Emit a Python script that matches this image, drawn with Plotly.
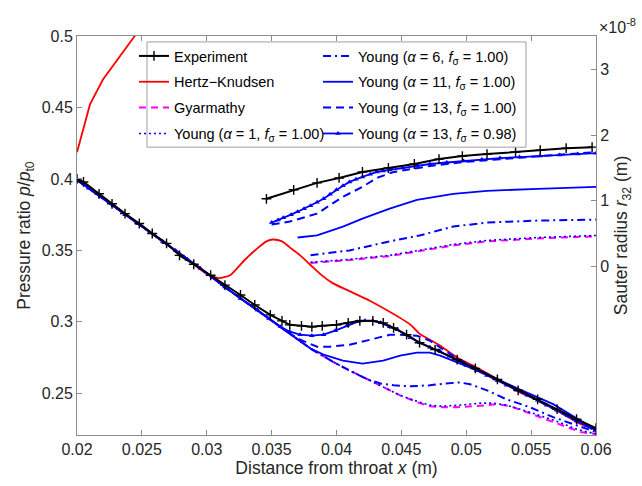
import plotly.graph_objects as go
import numpy as np

# ---------------- pressure ratio p/p_t0 (left axis) ----------------
x_exp_p = [0.0200, 0.0205, 0.0217, 0.0227, 0.0237, 0.0248, 0.0258, 0.0269, 0.0279, 0.0290,
           0.0303, 0.0314, 0.0326, 0.0337, 0.0349, 0.0358, 0.0364, 0.0373, 0.0381, 0.0389,
           0.0400, 0.0409, 0.0418, 0.0428, 0.0436, 0.0444, 0.0454, 0.0464, 0.0476, 0.0493,
           0.0507, 0.0524, 0.0540, 0.0555, 0.0570, 0.0585, 0.0600]
p_exp = [0.4000, 0.3979, 0.3896, 0.3826, 0.3757, 0.3688, 0.3618, 0.3549, 0.3465, 0.3403,
         0.3326, 0.3257, 0.3188, 0.3118, 0.3049, 0.3007, 0.2979, 0.2972, 0.2965, 0.2972,
         0.2979, 0.2993, 0.3007, 0.3007, 0.2993, 0.2958, 0.2910, 0.2854, 0.2806, 0.2736,
         0.2674, 0.2597, 0.2521, 0.2458, 0.2389, 0.2319, 0.2257]

x_hk_p = [0.0200, 0.0256, 0.0287, 0.0299, 0.0309, 0.0318, 0.0329, 0.0339, 0.0346, 0.0351,
          0.0358, 0.0364, 0.0372, 0.0381, 0.0388, 0.0397, 0.0410, 0.0426, 0.0441, 0.0457,
          0.0464, 0.0472, 0.0480, 0.0493, 0.0508, 0.0526, 0.0541, 0.0555, 0.0572, 0.0588, 0.0600]
p_hk = [0.3997, 0.3632, 0.3424, 0.3340, 0.3306, 0.3326, 0.3431, 0.3514, 0.3563, 0.3576,
        0.3563, 0.3521, 0.3465, 0.3389, 0.3330, 0.3271, 0.3215, 0.3146, 0.3070, 0.2980,
        0.2917, 0.2875, 0.2833, 0.2750, 0.2681, 0.2590, 0.2507, 0.2451, 0.2368, 0.2285, 0.2243]

# shared expansion line of the Young / Gyarmathy models before condensation
x_base = [0.0200, 0.0218, 0.0237, 0.0256, 0.0276, 0.0295, 0.0314, 0.0339, 0.0364]
p_base = [0.3993, 0.3875, 0.3750, 0.3625, 0.3500, 0.3375, 0.3243, 0.3083, 0.2917]

x_gy_p = [0.0380, 0.0397, 0.0410, 0.0424, 0.0436, 0.0449, 0.0462, 0.0472, 0.0480, 0.0493,
          0.0507, 0.0524, 0.0534, 0.0549, 0.0567, 0.0588, 0.0600]
p_gy = [0.2813, 0.2722, 0.2660, 0.2597, 0.2542, 0.2486, 0.2438, 0.2410, 0.2403, 0.2403,
        0.2410, 0.2424, 0.2410, 0.2361, 0.2299, 0.2229, 0.2215]

x_y1_p = [0.0380, 0.0397, 0.0410, 0.0424, 0.0436, 0.0449, 0.0462, 0.0472, 0.0480, 0.0495,
          0.0511, 0.0521, 0.0531, 0.0549, 0.0567, 0.0585, 0.0600]
p_y1 = [0.2813, 0.2722, 0.2660, 0.2597, 0.2542, 0.2486, 0.2444, 0.2417, 0.2410, 0.2417,
        0.2431, 0.2431, 0.2417, 0.2368, 0.2313, 0.2250, 0.2215]

x_y6_p = [0.0380, 0.0397, 0.0410, 0.0424, 0.0434, 0.0444, 0.0457, 0.0472, 0.0484, 0.0495,
          0.0503, 0.0516, 0.0531, 0.0549, 0.0567, 0.0588, 0.0600]
p_y6 = [0.2813, 0.2722, 0.2660, 0.2597, 0.2569, 0.2556, 0.2549, 0.2556, 0.2569, 0.2576,
        0.2563, 0.2521, 0.2458, 0.2403, 0.2333, 0.2264, 0.2229]

x_y11_p = [0.0380, 0.0390, 0.0405, 0.0420, 0.0436, 0.0449, 0.0462, 0.0472, 0.0480, 0.0493,
           0.0516, 0.0541, 0.0567, 0.0600]
p_y11 = [0.2813, 0.2771, 0.2729, 0.2708, 0.2729, 0.2764, 0.2785, 0.2785, 0.2764, 0.2715,
         0.2632, 0.2528, 0.2424, 0.2243]

x_y13_p = [0.0372, 0.0385, 0.0395, 0.0410, 0.0426, 0.0441, 0.0451, 0.0462, 0.0472, 0.0493,
           0.0524, 0.0555, 0.0585, 0.0600]
p_y13 = [0.2875, 0.2826, 0.2826, 0.2840, 0.2875, 0.2910, 0.2910, 0.2903, 0.2868, 0.2743,
         0.2597, 0.2451, 0.2306, 0.2236]

x_y13b_p = [0.0200, 0.0209, 0.0218, 0.0228, 0.0237, 0.0247, 0.0256, 0.0266, 0.0276, 0.0285,
            0.0295, 0.0305, 0.0314, 0.0326, 0.0339, 0.0348, 0.0357, 0.0364,
            0.0372, 0.0381, 0.0390, 0.0399, 0.0408, 0.0416, 0.0422, 0.0428, 0.0434, 0.0441,
            0.0447, 0.0457, 0.0464, 0.0472, 0.0480, 0.0487, 0.0493, 0.0500, 0.0508, 0.0516,
            0.0524, 0.0531, 0.0539, 0.0547, 0.0555, 0.0562, 0.0570, 0.0578, 0.0585, 0.0593, 0.0600]
p_y13b = [0.3993, 0.3934, 0.3875, 0.3812, 0.3750, 0.3687, 0.3625, 0.3562, 0.3500, 0.3437,
          0.3375, 0.3309, 0.3243, 0.3163, 0.3083, 0.3024, 0.2965, 0.2931,
          0.2910, 0.2903, 0.2910, 0.2938, 0.2972, 0.3000, 0.3007, 0.3007, 0.2993, 0.2965,
          0.2944, 0.2889, 0.2854, 0.2823, 0.2792, 0.2760, 0.2729, 0.2695, 0.2660, 0.2625,
          0.2590, 0.2556, 0.2521, 0.2486, 0.2451, 0.2417, 0.2382, 0.2344, 0.2306, 0.2275, 0.2243]

# ---------------- Sauter radius r_32 (right axis, units of 1e-8 m) ----------------
x_exp_r = [0.0346, 0.0367, 0.0385, 0.0402, 0.0420, 0.0440, 0.0460, 0.0479, 0.0497, 0.0516,
           0.0538, 0.0557, 0.0577, 0.0597]
r_exp = [1.030, 1.167, 1.273, 1.348, 1.439, 1.500, 1.561, 1.636, 1.682, 1.712,
         1.742, 1.773, 1.803, 1.818]

x_hk_r = [0.0200, 0.0210, 0.0220, 0.0233, 0.0245, 0.0255]
r_hk = [1.74, 2.47, 2.85, 3.20, 3.53, 3.80]

x_y1_r = [0.0380, 0.0410, 0.0441, 0.0464, 0.0490, 0.0516, 0.0555, 0.0600]
r_y1 = [0.061, 0.106, 0.167, 0.242, 0.333, 0.394, 0.439, 0.470]
r_gy = [0.050, 0.094, 0.155, 0.230, 0.318, 0.379, 0.424, 0.458]

x_y6_r = [0.0380, 0.0410, 0.0441, 0.0464, 0.0490, 0.0516, 0.0555, 0.0600]
r_y6 = [0.167, 0.242, 0.379, 0.470, 0.606, 0.667, 0.697, 0.712]

x_y11_r = [0.0370, 0.0385, 0.0405, 0.0420, 0.0441, 0.0462, 0.0490, 0.0516, 0.0555, 0.0600]
r_y11 = [0.439, 0.470, 0.606, 0.727, 0.879, 1.015, 1.106, 1.152, 1.182, 1.212]

x_y13_r = [0.0350, 0.0364, 0.0385, 0.0405, 0.0420, 0.0431, 0.0444, 0.0457, 0.0472, 0.0498,
           0.0526, 0.0557, 0.0600]
r_y13 = [0.636, 0.682, 0.803, 1.061, 1.212, 1.348, 1.439, 1.485, 1.530, 1.591,
         1.636, 1.682, 1.742]

x_y13b_r = [0.0350, 0.0355, 0.0359, 0.0365, 0.0370, 0.0375, 0.0380, 0.0385, 0.0390, 0.0395,
            0.0400, 0.0405, 0.0410, 0.0415, 0.0420, 0.0426, 0.0431, 0.0436, 0.0441,
            0.0451, 0.0462, 0.0472, 0.0485, 0.0498, 0.0512, 0.0526, 0.0541, 0.0557, 0.0572,
            0.0586, 0.0600]
r_y13b = [0.667, 0.705, 0.742, 0.788, 0.833, 0.879, 0.924, 0.977, 1.030, 1.100,
          1.167, 1.230, 1.288, 1.330, 1.364, 1.405, 1.439, 1.456, 1.470,
          1.500, 1.530, 1.561, 1.584, 1.606, 1.630, 1.652, 1.667, 1.682, 1.697,
          1.712, 1.727]

R_UNIT = 1e-8

names = {
    "exp": "Experiment",
    "hk": "Hertz\u2212Knudsen",
    "gy": "Gyarmathy",
    "y1": "Young (<i>\u03b1</i> = 1, <i>f</i><sub>\u03c3</sub> = 1.00)",
    "y6": "Young (<i>\u03b1</i> = 6, <i>f</i><sub>\u03c3</sub> = 1.00)",
    "y11": "Young (<i>\u03b1</i> = 11, <i>f</i><sub>\u03c3</sub> = 1.00)",
    "y13": "Young (<i>\u03b1</i> = 13, <i>f</i><sub>\u03c3</sub> = 1.00)",
    "y13b": "Young (<i>\u03b1</i> = 13, <i>f</i><sub>\u03c3</sub> = 0.98)",
}

BLUE = "#0000ff"
RED = "#ff0000"
MAG = "#ff00ff"
FONT = "Liberation Sans, Arial, sans-serif"

fig = go.Figure()


def add(key, xs, ys, yaxis, line, legend, rank, show, marker=None, mode="lines"):
    fig.add_trace(go.Scatter(
        x=xs, y=ys, mode=mode, name=names[key], line=line, marker=marker,
        yaxis=yaxis, legend=legend, legendgroup=key, legendrank=rank, showlegend=show,
        hoverinfo="skip"))


def full(xb, yb, xs, ys):
    return list(xb) + list(xs), list(yb) + list(ys)


# Hertz-Knudsen
add("hk", x_hk_p, p_hk, "y", dict(color=RED, width=1.8, shape="spline", smoothing=0.6), "legend", 2, True)
add("hk", x_hk_r, list(np.array(r_hk) * R_UNIT), "y2", dict(color=RED, width=1.8), "legend", 2, False)

# Gyarmathy
xx, yy = full(x_base, p_base, x_gy_p, p_gy)
add("gy", xx, yy, "y", dict(color=MAG, width=2, dash="7px,5px"), "legend", 3, True)
add("gy", x_y1_r, list(np.array(r_gy) * R_UNIT), "y2", dict(color=MAG, width=2, dash="7px,5px"), "legend", 3, False)

# Young alpha = 1
xx, yy = full(x_base, p_base, x_y1_p, p_y1)
add("y1", xx, yy, "y", dict(color=BLUE, width=1.6, dash="2px,3px"), "legend", 4, True)
add("y1", x_y1_r, list(np.array(r_y1) * R_UNIT), "y2", dict(color=BLUE, width=1.6, dash="2px,3px"), "legend", 4, False)

# Young alpha = 6
xx, yy = full(x_base, p_base, x_y6_p, p_y6)
add("y6", xx, yy, "y", dict(color=BLUE, width=2, dash="8px,4px,2px,4px"), "legend2", 5, True)
add("y6", x_y6_r, list(np.array(r_y6) * R_UNIT), "y2", dict(color=BLUE, width=2, dash="8px,4px,2px,4px"), "legend2", 5, False)

# Young alpha = 11
xx, yy = full(x_base, p_base, x_y11_p, p_y11)
add("y11", xx, yy, "y", dict(color=BLUE, width=1.8), "legend2", 6, True)
add("y11", x_y11_r, list(np.array(r_y11) * R_UNIT), "y2", dict(color=BLUE, width=1.8), "legend2", 6, False)

# Young alpha = 13, f = 1.00
xx, yy = full(x_base, p_base, x_y13_p, p_y13)
add("y13", xx, yy, "y", dict(color=BLUE, width=2, dash="8px,5px"), "legend2", 7, True)
add("y13", x_y13_r, list(np.array(r_y13) * R_UNIT), "y2", dict(color=BLUE, width=2, dash="8px,5px"), "legend2", 7, False)

# Young alpha = 13, f = 0.98
tri = dict(symbol="triangle-up", size=5, color=BLUE)
add("y13b", x_y13b_p, p_y13b, "y", dict(color=BLUE, width=1.8), "legend2", 8, True, tri, "lines+markers")
add("y13b", x_y13b_r, list(np.array(r_y13b) * R_UNIT), "y2", dict(color=BLUE, width=1.8), "legend2", 8, False, tri, "lines+markers")

# Experiment
plus = dict(symbol="cross-thin", size=7, color="black", line=dict(color="black", width=1.4))
add("exp", x_exp_p, p_exp, "y", dict(color="black", width=2), "legend", 1, True, plus, "lines+markers")
add("exp", x_exp_r, list(np.array(r_exp) * R_UNIT), "y2", dict(color="black", width=2), "legend", 1, False, plus, "lines+markers")

AX = "#8c8c8c"
TXT = "#262626"
legend_common = dict(
    xanchor="left", yanchor="top", bgcolor="rgba(0,0,0,0)", borderwidth=0,
    font=dict(family=FONT, size=14.5, color="black"), tracegroupgap=4,
    orientation="v", itemclick=False, itemdoubleclick=False)

fig.update_layout(
    width=642, height=486,
    margin=dict(l=77, r=46, t=36, b=48),
    paper_bgcolor="white", plot_bgcolor="white",
    font=dict(family=FONT, size=16, color=TXT),
    showlegend=True,
    legend=dict(x=0.1098, y=0.990, **legend_common),
    legend2=dict(x=0.4644, y=0.990, **legend_common),
    xaxis=dict(
        range=[0.02, 0.06], tickvals=[0.02, 0.025, 0.03, 0.035, 0.04, 0.045, 0.05, 0.055, 0.06],
        ticktext=["0.02", "0.025", "0.03", "0.035", "0.04", "0.045", "0.05", "0.055", "0.06"],
        ticks="inside", ticklen=5, tickcolor=AX, showline=True, linecolor=AX, linewidth=1,
        mirror="ticks", showgrid=False, zeroline=False,
        tickfont=dict(size=16, color=TXT),
        title=dict(text="Distance from throat <i>x</i> (m)", font=dict(size=17.5, color=TXT), standoff=4)),
    yaxis=dict(
        range=[0.22083, 0.5], tickvals=[0.25, 0.3, 0.35, 0.4, 0.45, 0.5],
        ticktext=["0.25", "0.3", "0.35", "0.4", "0.45", "0.5"],
        ticks="inside", ticklen=5, tickcolor=AX, showline=True, linecolor=AX, linewidth=1,
        showgrid=False, zeroline=False, tickfont=dict(size=16, color=TXT),
        title=dict(text="Pressure ratio <i>p</i>/<i>p</i><sub>t0</sub>", font=dict(size=17.5, color=TXT), standoff=6)),
    yaxis2=dict(
        overlaying="y", side="right", range=[-2.576e-8, 3.515e-8],
        tickvals=[0, 1e-8, 2e-8, 3e-8], ticktext=["0", "1", "2", "3"],
        ticks="inside", ticklen=5, tickcolor=AX, showline=True, linecolor=AX, linewidth=1,
        showgrid=False, zeroline=False, tickfont=dict(size=16, color=TXT),
        title=dict(text="Sauter radius <i>r</i><sub>32</sub> (m)", font=dict(size=17.5, color=TXT), standoff=6)),
    shapes=[dict(type="rect", xref="paper", yref="paper", x0=0.1349, x1=0.8651, y0=0.7214, y1=0.9851,
                 line=dict(color="#a0a0a0", width=1), fillcolor="white", layer="above")],
    annotations=[dict(text="\u00d710<sup>-8</sup>", xref="paper", yref="paper", x=1.0019, y=1.0249,
                      xanchor="left", yanchor="middle", showarrow=False, font=dict(size=16, color=TXT))],
)

fig.write_html("out.html")
